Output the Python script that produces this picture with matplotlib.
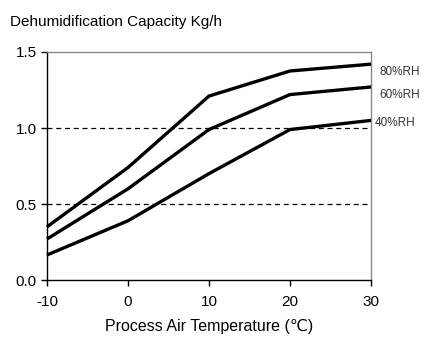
import matplotlib
matplotlib.use('Agg')
import matplotlib.pyplot as plt

plt.rcParams['font.family'] = ['Liberation Sans', 'DejaVu Sans']

temps = [-10, 0, 10, 20, 30]
rh80 = [0.35, 0.74, 1.21, 1.375, 1.42]
rh60 = [0.27, 0.60, 0.99, 1.22, 1.27]
rh40 = [0.165, 0.39, 0.70, 0.99, 1.05]
curve_labels = ['80%RH', '60%RH', '40%RH']
y_ticks = [0.0, 0.5, 1.0, 1.5]

fig = plt.figure(figsize=(4.47, 3.42), dpi=100)
ax = fig.add_axes([0.105, 0.181, 0.725, 0.667])

# reference levels
for level in (0.5, 1.0):
    ax.axhline(level, color='black', lw=0.9, ls=(0, (4, 3)), zorder=1)

# curve labels sit just right of the last point
label_shift = {'80%RH': (6, -6), '60%RH': (6, -6), '40%RH': (3, -2)}
for series, name in zip([rh80, rh60, rh40], curve_labels):
    ax.plot(temps, series, color='black', lw=2.4, solid_capstyle='butt', zorder=3, clip_on=False)
    ax.annotate(name, xy=(temps[-1], series[-1]), xytext=label_shift[name],
                textcoords='offset points', fontsize=8.5, color='#333333', va='center', ha='left',
                annotation_clip=False)

ax.set_xlim(-10, 30)
ax.set_ylim(0, 1.5)
ax.set_xticks(temps)
ax.set_xticklabels([str(t) for t in temps])
ax.set_yticks(y_ticks)
ax.set_yticklabels(['%.1f' % v for v in y_ticks])
ax.tick_params(axis='both', direction='out', length=4, width=1, labelsize=11, colors='black')
ax.tick_params(axis='x', pad=7)

ax.spines['left'].set_color('black')
ax.spines['bottom'].set_color('black')
ax.spines['top'].set_color('#888888')
ax.spines['right'].set_color('#888888')
for s in ax.spines.values():
    s.set_linewidth(1)

ax.set_xlabel('Process Air Temperature (\u2103)', fontsize=11.5, labelpad=7)
fig.text(0.022, 0.935, 'Dehumidification Capacity Kg/h', fontsize=11, ha='left', va='center')

fig.savefig('out.png', dpi=100)
